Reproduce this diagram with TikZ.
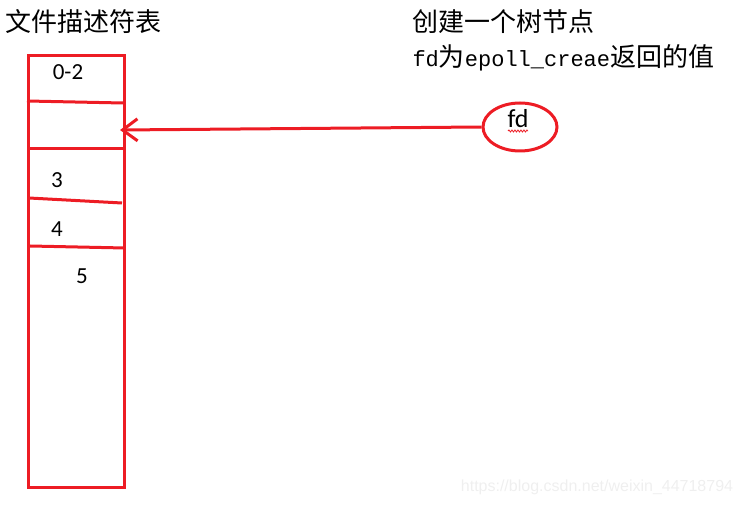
\documentclass[tikz,border=0pt]{standalone}
\usepackage{fontspec}
\setmainfont{Carlito}
\newfontfamily\cjk{Noto Sans CJK SC}
\newfontfamily\mono{Liberation Mono}
\newfontfamily\wmfont{Liberation Sans}
\usetikzlibrary{arrows.meta,shapes.geometric,decorations.pathmorphing}
\definecolor{p_red}{HTML}{ED1C24}
\definecolor{wm_gray}{HTML}{EFEFEF}

\begin{document}
\begin{tikzpicture}[x=1pt,y=-1pt,line width=3pt]
\useasboundingbox (0,0) rectangle (742,505);

% table of descriptors
\node[draw=p_red, minimum width=96pt, minimum height=432pt, inner sep=0, anchor=north west] (fdtab) at (27,54) {};
\draw[p_red] (27,101) -- (123,103);
\draw[p_red] (27,149) -- (126,149);
\draw[p_red] (29,198) -- (122,203);
\draw[p_red] (30,246) -- (125,248);

\node[font=\fontsize{23}{26}\selectfont] (t02) at (68,72) {0-2};
\node[font=\fontsize{23}{26}\selectfont] (t3) at (57,180) {3};
\node[font=\fontsize{23}{26}\selectfont] (t4) at (57,229) {4};
\node[font=\fontsize{23}{26}\selectfont] (t5) at (82,276) {5};

% titles
\node[anchor=west, inner sep=0, font=\fontsize{26}{30}\selectfont\cjk] (title) at (4,22) {文件描述符表};
\node[anchor=west, inner sep=0, font=\fontsize{26}{30}\selectfont\cjk] (note1) at (411,22) {创建一个树节点};
\node[anchor=west, inner sep=0, font=\fontsize{26}{30}\selectfont] (note2) at (411,58) {{\mono\fontsize{22}{26}\selectfont fd}{\cjk 为}{\mono\fontsize{22}{26}\selectfont epoll\_creae}{\cjk 返回的值}};

% tree node
\node[ellipse, draw=p_red, minimum width=74pt, minimum height=48pt, inner sep=0] (fd) at (520,127) {};
\node[font=\fontsize{26}{30}\selectfont] (fdtxt) at (518,119) {fd};
\draw[p_red, line width=0.8pt, decorate, decoration={snake, amplitude=1pt, segment length=3pt}] (508,131) -- (528,131);

\coordinate (slot) at (120,130);
\draw[p_red, -{Straight Barb[length=15pt,width=22pt]}] (fd.west) -- (slot);

% watermark
\node[text=wm_gray, font=\fontsize{16}{18}\selectfont\wmfont] (wm) at (597,487) {https://blog.csdn.net/weixin\_44718794};
\end{tikzpicture}
\end{document}
